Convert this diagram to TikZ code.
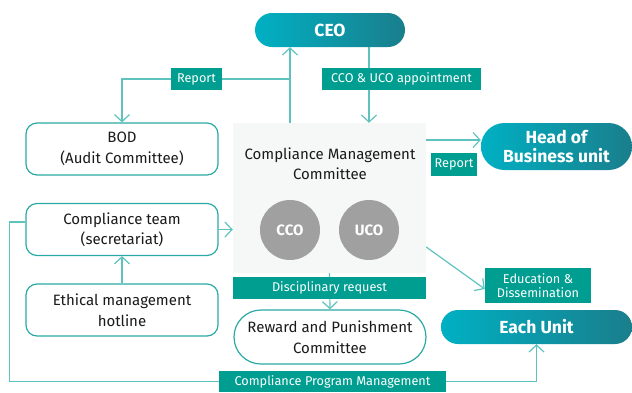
\documentclass[tikz,border=0pt]{standalone}
\usepackage{fontspec}
\setmainfont{Fira Sans}
\usetikzlibrary{arrows.meta}
\definecolor{tealL}{HTML}{009E90}
\definecolor{lineC}{HTML}{5EC3BF}
\definecolor{boxB}{HTML}{2BA9A4}
\definecolor{pillL}{HTML}{00B0C3}
\definecolor{pillR}{HTML}{1A7E8C}
\definecolor{cmcF}{HTML}{F6F7F7}
\definecolor{circF}{HTML}{A0A0A0}
\definecolor{txt}{HTML}{1A1A1A}
\pgfdeclarelayer{bg}
\pgfsetlayers{bg,main}
\begin{document}
\begin{tikzpicture}[x=1pt,y=-1pt,
  conn/.style={draw=lineC, line width=1.2pt},
  arr/.style={conn, -{Straight Barb[length=7pt,width=15pt,line width=1.2pt]}},
  wbox/.style={draw=boxB, line width=1.2pt, fill=white, rounded corners=11pt,
    minimum width=192pt, minimum height=52pt, align=center, inner sep=0pt,
    font=\fontsize{15}{20.5}\selectfont, text=txt},
  pill/.style={left color=pillL, right color=pillR, text=white, inner sep=0pt,
    align=center, font=\fontsize{17.5}{19.5}\selectfont\bfseries},
  lab/.style={fill=tealL, text=white, inner sep=0pt, align=center,
    font=\fontsize{12.7}{13.5}\selectfont},
  circ/.style={circle, fill=circF, minimum size=60pt, inner sep=0pt, text=white,
    font=\fontsize{15}{16}\selectfont\bfseries}
]
\useasboundingbox (0,0) rectangle (632,392);

% pills
\node[pill, minimum width=150pt, minimum height=34pt, rounded corners=17pt] (ceo) at (330,30) {CEO};
\node[pill, minimum width=151pt, minimum height=47pt, rounded corners=23.5pt] (hbu) at (556.5,146.5) {Head of\\Business unit};
\node[pill, minimum width=191pt, minimum height=34pt, rounded corners=17pt] (eu) at (536.5,327) {Each Unit};

% CMC
\node[fill=cmcF, minimum width=193pt, minimum height=150pt, inner sep=0pt] (cmc) at (329.5,198) {};
\node[align=center, text=txt, font=\fontsize{15}{20}\selectfont] (cmct) at (330,163.5) {Compliance Management\\Committee};
\node[circ] (cco) at (290,230) {CCO};
\node[circ] (uco) at (369,230) {UCO};

% white boxes
\node[wbox] (bod) at (122,149) {BOD\\(Audit Committee)};
\node[wbox] (ct) at (122,229.5) {Compliance team\\(secretariat)};
\node[wbox] (eth) at (122,310) {Ethical management\\hotline};
\node[wbox, rounded corners=27pt, minimum height=54pt] (rp) at (330,337) {Reward and Punishment\\Committee};

% labels
\node[lab, minimum width=51pt, minimum height=22pt] (rep1) at (196.5,79) {Report};
\node[lab, minimum width=159pt, minimum height=22pt] (appt) at (401.5,79) {CCO \& UCO appointment};
\node[lab, minimum width=46pt, minimum height=23pt] (rep2) at (454,164.5) {Report};
\node[lab, minimum width=193pt, minimum height=22pt] (disc) at (329.5,288) {Disciplinary request};
\node[lab, minimum width=106pt, minimum height=35pt] (edu) at (538,285.5) {Education \&\\Dissemination};
\node[lab, minimum width=227pt, minimum height=21pt] (cpm) at (332.5,381.5) {Compliance Program Management};

\coordinate (hbuin) at ([yshift=6.5pt]hbu.west);
\coordinate (edus) at ([yshift=-49pt]cmc.east);
\coordinate (edue) at ([yshift=-3.5pt]edu.west);
\coordinate (ctl) at ([yshift=7.5pt]ct.west);

\begin{pgfonlayer}{bg}
\draw[arr] (cco.center |- cmc.north) -- (cco.center |- ceo.south);
\draw[arr] (cco.center |- rep1.center) -- (rep1.center) -| (bod.north);
\draw[arr] (uco.center |- ceo.south) -- (uco.center |- cmc.north);
\draw[arr] (cmc.east |- hbuin) -- (hbuin);
\draw[arr] (ct.east) -- (cmc.west |- ct.east);
\draw[arr] (eth.north) -- (ct.south);
\draw[arr] (cmc.south) -- (rp.north);
\draw[arr] (edus) -- (edue);
\draw[arr] (ctl) -- ++(-16,0) |- (cpm.center) -| (eu.south);
\end{pgfonlayer}
\end{tikzpicture}
\end{document}
